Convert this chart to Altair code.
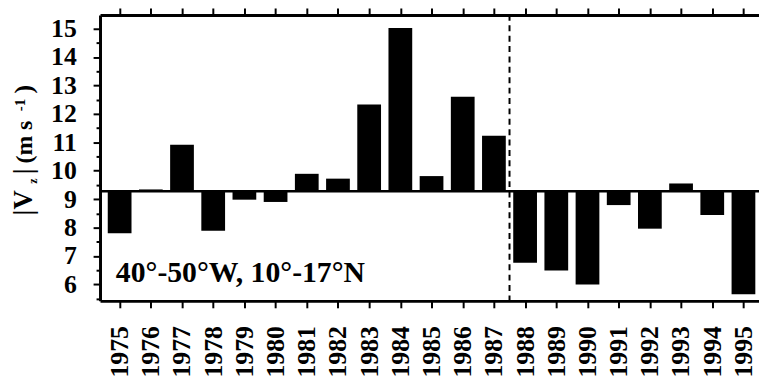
import altair as alt
import pandas as pd

years = list(range(1975, 1996))
values = [7.8, 9.34, 10.91, 7.89, 8.98, 8.9, 9.89, 9.72, 12.33, 15.02, 9.81,
          12.6, 11.23, 6.76, 6.49, 6.0, 8.79, 7.96, 9.55, 8.44, 5.65]
baseline = 9.28
divider_year = 1987.5
region_label = "40°-50°W, 10°-17°N"
y_ticks = [5.5 + 0.5 * i for i in range(20)]

FONT = "Liberation Serif"

df = pd.DataFrame({"year": years, "value": values, "base": [baseline] * len(years)})

xscale = alt.Scale(domain=[1974.53, 1995.34], nice=False, zero=False)
yscale = alt.Scale(domain=[5.42, 15.48], nice=False, zero=False)

yaxis = alt.Axis(values=y_ticks, grid=False, format=".0f",
                 labelExpr="datum.value % 1 === 0 ? datum.label : ''",
                 tickSize={"condition": {"test": "datum.value % 1 === 0", "value": 7}, "value": 4},
                 labelPadding=17)

bars = alt.Chart(df).mark_bar(size=24, color="black").encode(
    x=alt.X("year:Q", scale=xscale, title=None,
            axis=alt.Axis(values=years, format="d", labelAngle=270, orient="bottom",
                          tickSize=7, labelPadding=18, grid=False)),
    y=alt.Y("value:Q", scale=yscale, title=None, axis=yaxis),
    y2="base:Q",
)

top_axis = alt.Chart(df).mark_point(opacity=0).encode(
    x=alt.X("year:Q", scale=xscale, title=None,
            axis=alt.Axis(values=years, orient="top", labels=False, tickSize=7, grid=False)),
    y=alt.Y("value:Q", scale=yscale, title=None, axis=yaxis),
)

base_rule = alt.Chart(pd.DataFrame({"b": [baseline]})).mark_rule(
    color="black", strokeWidth=2.5
).encode(y=alt.Y("b:Q", scale=yscale, title=None, axis=yaxis))

div_rule = alt.Chart(pd.DataFrame({"d": [divider_year]})).mark_rule(
    color="black", strokeWidth=2, strokeDash=[6, 4.5]
).encode(x=alt.X("d:Q", scale=xscale, axis=None))

label = alt.Chart(pd.DataFrame({"t": [region_label]})).mark_text(
    font=FONT, fontWeight="bold", fontSize=30, align="left", baseline="alphabetic", color="black"
).encode(text="t:N", x=alt.value(16), y=alt.value(270))


def title_piece(txt, xv, yv, size):
    return alt.Chart(pd.DataFrame({"t": [txt]})).mark_text(
        font=FONT, fontWeight="bold", fontSize=size, angle=270, align="center",
        baseline="alphabetic", color="black"
    ).encode(text="t:N", x=alt.value(xv), y=alt.value(yv))


title_parts = [
    title_piece("|V", -69, 190, 27),
    title_piece("z", -64, 168, 12),
    title_piece("|", -69, 158, 27),
    title_piece("(m s", -69, 128.5, 24),
    title_piece("-1", -76, 91, 15),
    title_piece(")", -69, 75, 26),
]

chart = alt.layer(bars, top_axis, base_rule, div_rule, label, *title_parts).resolve_axis(
    x="independent"
).properties(
    width=666, height=289,
    autosize=alt.AutoSizeParams(type="none"),
    padding={"left": 93, "top": 5, "right": 0, "bottom": 80},
).configure_view(stroke=None).configure_axis(
    labelFont=FONT, labelFontWeight="bold", labelFontSize=26, labelColor="black",
    domainColor="black", domainWidth=3, tickColor="black", tickWidth=2,
)

chart.save("out.html", embed_options={"renderer": "svg", "actions": False})
